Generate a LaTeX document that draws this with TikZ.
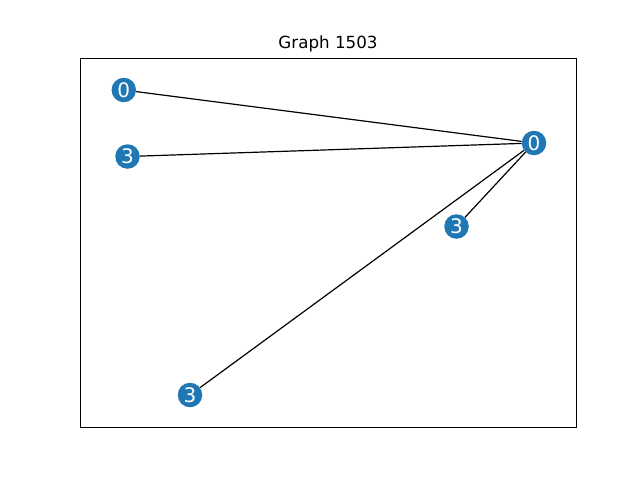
\documentclass[tikz,border=0pt]{standalone}
\usepackage{fontspec}
\setmainfont{DejaVu Sans}
\definecolor{nodeblue}{HTML}{1F77B4}
\begin{document}
\begin{tikzpicture}[x=1pt,y=-1pt,
  vertex/.style={circle,fill=nodeblue,draw=none,minimum size=24.5pt,inner sep=0pt,text=white,font=\fontsize{20}{20}\selectfont},
  edge/.style={draw=black,line width=1.2pt}]
\useasboundingbox (0,0) rectangle (640,480);
\draw[line width=1pt] (80,58) rectangle (576,427);
\node[font=\fontsize{16.7}{16.7}\selectfont] (title) at (328,44) {Graph 1503};
\node[vertex] (a) at (123.8,90) {0};
\node[vertex] (b) at (127.5,156.5) {3};
\node[vertex] (c) at (534,143) {0};
\node[vertex] (d) at (456.5,226.5) {3};
\node[vertex] (e) at (190,395) {3};
\draw[edge] (a) -- (c);
\draw[edge] (b) -- (c);
\draw[edge] (c) -- (d);
\draw[edge] (c) -- (e);
\end{tikzpicture}
\end{document}
